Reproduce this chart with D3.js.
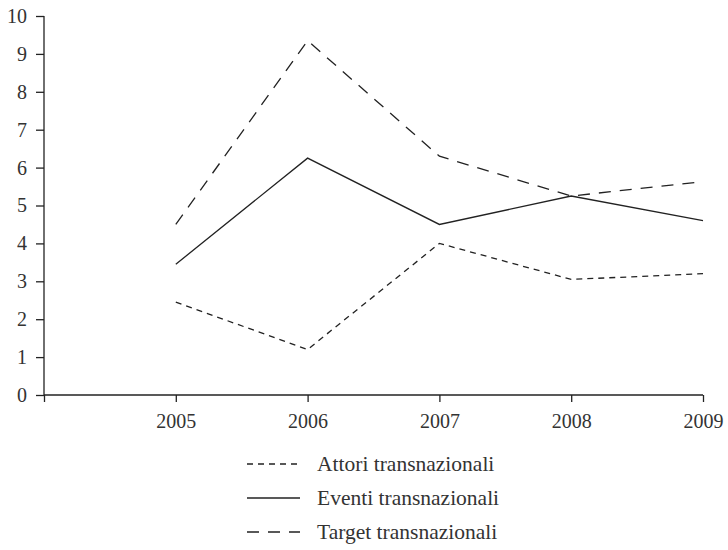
<!DOCTYPE html>
<html><head><meta charset="utf-8">
<script src="https://cdn.jsdelivr.net/npm/d3@7"></script>
<style>body{margin:0;background:#fff;} svg{display:block;}</style>
</head><body>
<svg id="c" width="728" height="550"></svg>
<script>
const years = [2005, 2006, 2007, 2008, 2009];
const attori = [2.45, 1.2, 4.0, 3.05, 3.2];
const eventi = [3.45, 6.25, 4.5, 5.25, 4.6];
const target = [4.5, 9.35, 6.3, 5.25, 5.63];
const yTicks = [0,1,2,3,4,5,6,7,8,9,10];
const seriesNames = ["Attori transnazionali","Eventi transnazionali","Target transnazionali"];

const svg = d3.select("#c");
const font = "'Liberation Serif', 'DejaVu Serif', serif";
const col = "#222";
const x = d3.scaleLinear().domain([2004, 2009]).range([44, 703]);
const y = d3.scaleLinear().domain([0, 10]).range([395, 16]);

const xAxis = svg.append("g").attr("transform","translate(0,395)")
  .call(d3.axisBottom(x).tickValues([2004].concat(years)).tickFormat(d => d===2004 ? "" : d).tickSize(7).tickSizeOuter(0).tickPadding(12));
const yAxis = svg.append("g").attr("transform","translate(44,0)")
  .call(d3.axisLeft(y).tickValues(yTicks).tickSize(8).tickSizeOuter(0).tickPadding(9));
[xAxis,yAxis].forEach(g=>{
  g.selectAll("path,line").attr("stroke",col).attr("stroke-width",1.3);
  g.selectAll("text").attr("fill","#333").style("font-family",font).style("font-size","20px");
});
xAxis.select(".domain").attr("d","M44,0H703");
yAxis.select(".domain").attr("d","M0,16V395");

const styles = [
  {data: attori, dash: "6,5"},
  {data: eventi, dash: null},
  {data: target, dash: "12,9"}
];
const line = d3.line().x((d,i)=>x(years[i])).y(d=>y(d));
styles.forEach(s=>{
  svg.append("path").datum(s.data).attr("d",line).attr("fill","none")
    .attr("stroke",col).attr("stroke-width",1.3)
    .attr("stroke-dasharray", s.dash);
});

const ly = [464, 498, 532];
styles.forEach((s,i)=>{
  svg.append("line").attr("x1",247).attr("x2",300).attr("y1",ly[i]).attr("y2",ly[i])
    .attr("stroke",col).attr("stroke-width",1.3).attr("stroke-dasharray", s.dash);
  svg.append("text").attr("x",317).attr("y",ly[i]).attr("dy","0.33em")
    .attr("fill","#333").style("font-family",font).style("font-size","21.5px").text(seriesNames[i]);
});
</script>
</body></html>
